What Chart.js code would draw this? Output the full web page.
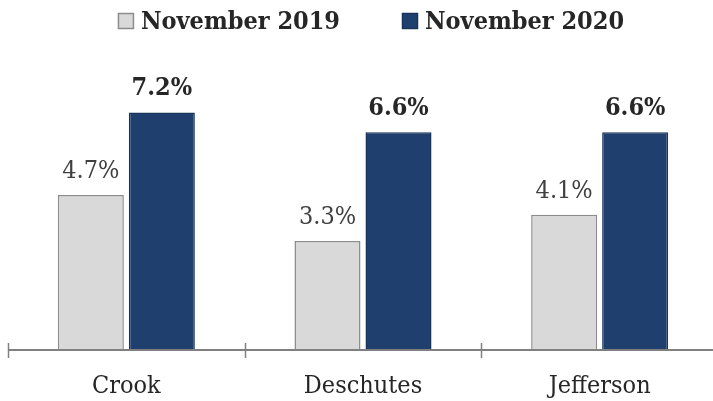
<!DOCTYPE html>
<html>
<head>
<meta charset="utf-8">
<script src="https://cdn.jsdelivr.net/npm/chart.js@4"></script>
<style>
  html, body { margin: 0; padding: 0; background: #fff; overflow: hidden; }
  #wrap { width: 718px; height: 418px; position: relative; }
</style>
</head>
<body>
<div id="wrap"><canvas id="chart"></canvas></div>
<script>
// Data
const counties = ['Crook', 'Deschutes', 'Jefferson'];
const nov2019 = [4.7, 3.3, 4.1];
const nov2020 = [7.2, 6.6, 6.6];
const seriesNames = ['November 2019', 'November 2020'];

const serif = "'DejaVu Serif Condensed', 'DejaVu Serif', serif";

// ---- value labels above each bar
const barLabels = {
    id: 'barLabels',
    afterDatasetsDraw(chart) {
        const ctx = chart.ctx;
        ctx.save();
        ctx.textAlign = 'center';
        ctx.textBaseline = 'alphabetic';
        chart.data.datasets.forEach((ds, i) => {
            const meta = chart.getDatasetMeta(i);
            ctx.font = (i === 1 ? 'bold ' : '') + '25px ' + serif;
            ctx.fillStyle = i === 1 ? '#262626' : '#404040';
            meta.data.forEach((bar, j) => {
                ctx.fillText(ds.data[j].toFixed(1) + '%', bar.x, bar.y - 17);
            });
        });
        ctx.restore();
    }
};

// ---- legend drawn by hand so spacing matches
const topLegend = {
    id: 'topLegend',
    afterDraw(chart) {
        const ctx = chart.ctx;
        ctx.save();
        ctx.font = 'bold 25px ' + serif;
        const widths = seriesNames.map(t => ctx.measureText(t).width);
        const box = 16, gap = 7, spacing = 62;
        const total = box + gap + widths[0] + spacing + box + gap + widths[1];
        let x = 371 - total / 2;
        ctx.textBaseline = 'middle';
        chart.data.datasets.forEach((ds, i) => {
            ctx.fillStyle = ds.backgroundColor;
            ctx.fillRect(x, 13, box, box);
            ctx.strokeStyle = ds.borderColor;
            ctx.lineWidth = 1.5;
            ctx.strokeRect(x + 0.5, 13.5, box - 1, box - 1);
            x += box + gap;
            ctx.fillStyle = '#262626';
            ctx.fillText(seriesNames[i], x, 22);
            x += widths[i] + spacing;
        });
        ctx.restore();
    }
};

// ---- tick marks crossing the axis line
const axisTicks = {
    id: 'axisTicks',
    afterDraw(chart) {
        const ctx = chart.ctx;
        const x = chart.scales.x;
        const y0 = chart.chartArea.bottom;
        const step = (x.right - x.left) / counties.length;
        ctx.save();
        ctx.strokeStyle = '#808080';
        ctx.lineWidth = 1.5;
        for (let i = 0; i <= counties.length; i++) {
            const px = Math.round(x.left + step * i) + 0.5;
            ctx.beginPath();
            ctx.moveTo(px, y0 - 7);
            ctx.lineTo(px, y0 + 8);
            ctx.stroke();
        }
        ctx.beginPath();
        ctx.lineWidth = 2;
        ctx.moveTo(x.left, y0);
        ctx.lineTo(x.right, y0);
        ctx.stroke();
        ctx.restore();
    }
};

const ctx = document.getElementById('chart');
new Chart(ctx, {
    type: 'bar',
    data: {
        labels: counties,
        datasets: [{
            label: seriesNames[0],
            data: nov2019,
            backgroundColor: '#d9d9d9',
            borderColor: '#8c8c8c',
            borderWidth: 1.5,
            borderSkipped: 'bottom'
        }, {
            label: seriesNames[1],
            data: nov2020,
            backgroundColor: '#1f3f6e',
            borderColor: '#1a3459',
            borderWidth: 1.5,
            borderSkipped: 'bottom'
        }]
    },
    options: {
        responsive: true,
        maintainAspectRatio: false,
        animation: false,
        layout: { padding: { left: 8, right: 0, top: 53, bottom: 4 } },
        datasets: {
            bar: { categoryPercentage: 0.6, barPercentage: 0.93 }
        },
        plugins: {
            legend: { display: false },
            tooltip: { enabled: false }
        },
        scales: {
            x: {
                grid: { display: false },
                border: { display: false },
                ticks: {
                    color: '#262626',
                    padding: 13,
                    font: { family: serif, size: 25 }
                }
            },
            y: {
                display: false,
                min: 0,
                max: 9
            }
        }
    },
    plugins: [barLabels, topLegend, axisTicks]
});
</script>
</body>
</html>
